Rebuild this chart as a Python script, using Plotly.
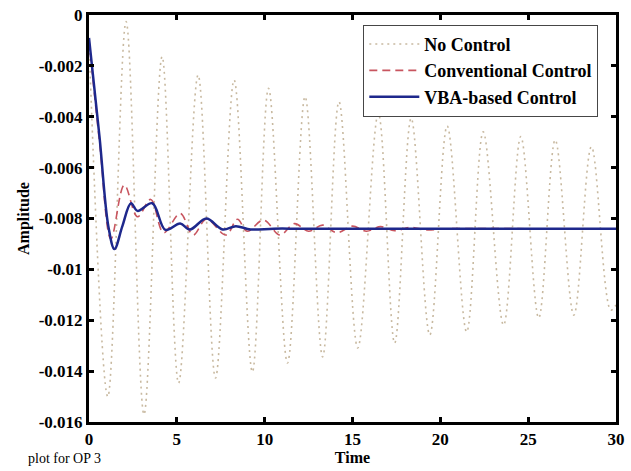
import plotly.graph_objects as go

# No Control (dotted) - extremes
t_nc = [0, 1.07, 2.11, 3.13, 4.16, 5.1, 6.21, 7.2, 8.26, 9.3, 10.22, 11.3, 12.3, 13.3,
        14.23, 15.3, 16.47, 17.4, 18.34, 19.4, 20.39, 21.5, 22.44, 23.6, 24.58, 25.6,
        26.54, 27.6, 28.6, 29.7, 30]
v_nc = [-0.001, -0.0150, -0.00026, -0.0157, -0.00164, -0.01447, -0.00236, -0.01427,
        -0.00256, -0.01403, -0.00288, -0.01368, -0.00321, -0.01344, -0.00341, -0.01309,
        -0.00387, -0.0129, -0.00406, -0.01258, -0.00436, -0.01246, -0.00459, -0.01219,
        -0.00478, -0.01191, -0.00491, -0.0118, -0.00518, -0.0116, -0.0114]

# Conventional Control (red dashed)
t_cc = [0, 0.6, 1.25, 2.01, 2.76, 3.51, 4.25, 5.19, 5.93, 6.68, 7.8, 8.45, 9.0, 9.94,
        10.87, 11.7, 12.5, 13.3, 14.1, 15.0, 15.8, 16.6, 17.4, 18.3, 19.2, 20.5, 25, 30]
v_cc = [-0.001, -0.0050, -0.0088, -0.00668, -0.00793, -0.00725, -0.00856, -0.0078,
        -0.00865, -0.00803, -0.00865, -0.00803, -0.0085, -0.00806, -0.00865, -0.0082,
        -0.0085, -0.00826, -0.00856, -0.0083, -0.0085, -0.00832, -0.00848, -0.00835,
        -0.00845, -0.0084, -0.0084, -0.0084]

# VBA-based Control (blue solid)
t_vba = [0, 0.6, 1.1, 1.45, 1.9, 2.39, 2.76, 3.6, 4.35, 5.19, 5.75, 6.68, 7.61, 8.36,
         9.2, 10.5, 12, 15, 20, 25, 30]
v_vba = [-0.0009, -0.0048, -0.0083, -0.0092, -0.0083, -0.0074, -0.0077, -0.0074,
         -0.00845, -0.0082, -0.00843, -0.0080, -0.00843, -0.0083, -0.00843, -0.0084,
         -0.0084, -0.0084, -0.0084, -0.0084, -0.0084]

x_ticks = [0, 5, 10, 15, 20, 25, 30]
y_ticks = [0, -0.002, -0.004, -0.006, -0.008, -0.01, -0.012, -0.014, -0.016]
y_tick_text = ["0", "-0.002", "-0.004", "-0.006", "-0.008", "-0.01", "-0.012", "-0.014", "-0.016"]

FONT = "Liberation Serif"

fig = go.Figure()
fig.add_trace(go.Scatter(x=t_nc, y=v_nc, mode="lines", name="<b>No Control</b>",
                         line=dict(color="rgb(200,185,160)", width=1.6, dash="2px,4px",
                                   shape="spline", smoothing=1.0)))
fig.add_trace(go.Scatter(x=t_cc, y=v_cc, mode="lines", name="<b>Conventional Control</b>",
                         line=dict(color="rgb(200,85,95)", width=1.6, dash="8px,5px",
                                   shape="spline", smoothing=1.0)))
fig.add_trace(go.Scatter(x=t_vba, y=v_vba, mode="lines", name="<b>VBA-based Control</b>",
                         line=dict(color="rgb(30,40,140)", width=2.5,
                                   shape="spline", smoothing=1.0)))

axis_common = dict(showline=True, linecolor="black", linewidth=3, mirror="ticks",
                   ticks="inside", ticklen=5, tickwidth=3, tickcolor="black",
                   showgrid=False, zeroline=False,
                   tickfont=dict(family=FONT, size=17, color="black"))

fig.update_xaxes(range=[0, 30], tickvals=x_ticks,
                 ticktext=["<b>%d</b>" % v for v in x_ticks],
                 title=dict(text="<b>Time</b>", font=dict(family=FONT, size=16, color="black"),
                            standoff=2),
                 **axis_common)
fig.update_yaxes(range=[-0.016, 0], tickvals=y_ticks,
                 ticktext=["<b>%s</b>" % s for s in y_tick_text],
                 title=dict(text="<b>Amplitude</b>", font=dict(family=FONT, size=16, color="black"),
                            standoff=6),
                 **axis_common)

fig.add_annotation(text="plot for OP 3", xref="paper", yref="paper", x=-0.12, y=-0.112,
                   xanchor="left", yanchor="bottom", showarrow=False,
                   font=dict(family=FONT, size=14, color="black"))

fig.update_layout(
    width=631, height=471,
    margin=dict(l=89, r=6, t=15, b=49),
    paper_bgcolor="white", plot_bgcolor="white",
    showlegend=True,
    legend=dict(x=0.5205, y=0.976, xanchor="left", yanchor="top",
                bgcolor="white", bordercolor="rgb(70,70,70)", borderwidth=1,
                font=dict(family=FONT, size=18, color="black"),
                itemwidth=50, tracegroupgap=0),
)

fig.write_html("out.html")
